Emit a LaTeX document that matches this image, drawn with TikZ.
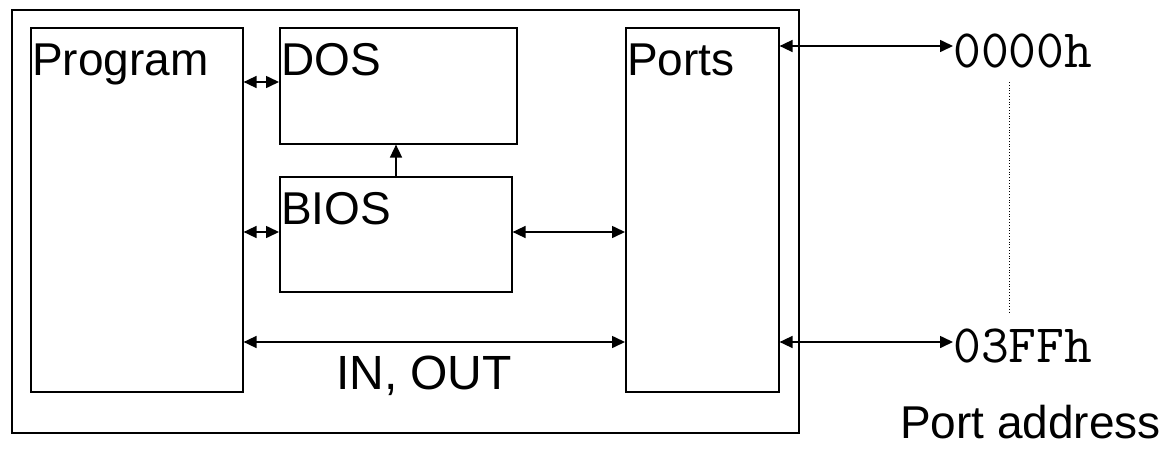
\documentclass[tikz,border=0pt]{standalone}
\usepackage{fontspec}
\setmainfont{Liberation Sans}
\usetikzlibrary{arrows.meta}
\begin{document}
\begin{tikzpicture}[x=1pt,y=-1pt,
  box/.style={draw,line width=1.6pt,inner sep=0pt,anchor=north west},
  lbl/.style={inner sep=0pt,anchor=base west,font=\fontsize{46}{50}\selectfont},
  mono/.style={inner sep=0pt,anchor=base west,font=\ttfamily\fontsize{54}{58}\selectfont},
  conn/.style={line width=1.6pt,arrows={Triangle[length=13pt,width=12pt]-Triangle[length=13pt,width=12pt]}},
  uni/.style={line width=1.6pt,arrows={-Triangle[length=13pt,width=12pt]}}]
\useasboundingbox (0,0) rectangle (1169,450);
% outer frame
\node[box,minimum width=787pt,minimum height=423pt] (outer) at (11,9) {};
% boxes
\node[box,minimum width=212pt,minimum height=364pt] (prog) at (30,27) {};
\node[box,minimum width=237pt,minimum height=116pt] (dos) at (279,27) {};
\node[box,minimum width=232pt,minimum height=115pt] (bios) at (279,176) {};
\node[box,minimum width=153pt,minimum height=364pt] (ports) at (625,27) {};
% labels
\node[lbl] (tprog) at ([xshift=2pt,yshift=-48pt]prog.north west) {Program};
\node[lbl] (tdos) at ([xshift=2pt,yshift=-48pt]dos.north west) {DOS};
\node[lbl] (tbios) at ([xshift=2pt,yshift=-48pt]bios.north west) {BIOS};
\node[lbl] (tports) at ([xshift=2pt,yshift=-48pt]ports.north west) {Ports};
% connector coordinates
\coordinate (pd1) at (prog.east |- 0,82);
\coordinate (pd2) at (dos.west |- 0,82);
\coordinate (pb1) at (prog.east |- 0,232);
\coordinate (pb2) at (bios.west |- 0,232);
\coordinate (bp1) at (bios.east |- 0,232);
\coordinate (bp2) at (ports.west |- 0,232);
\coordinate (io1) at (prog.east |- 0,342);
\coordinate (io2) at (ports.west |- 0,342);
\coordinate (bd1) at (bios.north -| 396,0);
\coordinate (bd2) at (dos.south -| 396,0);
\draw[conn] (pd1) -- (pd2);
\draw[conn] (pb1) -- (pb2);
\draw[conn] (bp1) -- (bp2);
\draw[conn] (io1) -- (io2);
\draw[uni] (bd1) -- (bd2);
\node[inner sep=0pt,anchor=base,font=\fontsize{48}{52}\selectfont] (inout) at (424,389) {IN, OUT};
% port addresses
\node[mono] (a0) at (953,67) {0000h};
\node[mono] (a1) at (953,362) {03FFh};
\coordinate (pt0) at (ports.east |- 0,46);
\coordinate (pt1) at (ports.east |- 0,342);
\draw[conn] (pt0) -- (a0.west |- pt0);
\draw[conn] (pt1) -- (a1.west |- pt1);
\coordinate (dt0) at (1009,82);
\coordinate (dt1) at (1009,312);
\draw[line width=0.8pt,dotted] (dt0) -- (dt1);
\node[lbl,anchor=base east] (paddr) at (1161,438) {Port address};
\end{tikzpicture}
\end{document}
